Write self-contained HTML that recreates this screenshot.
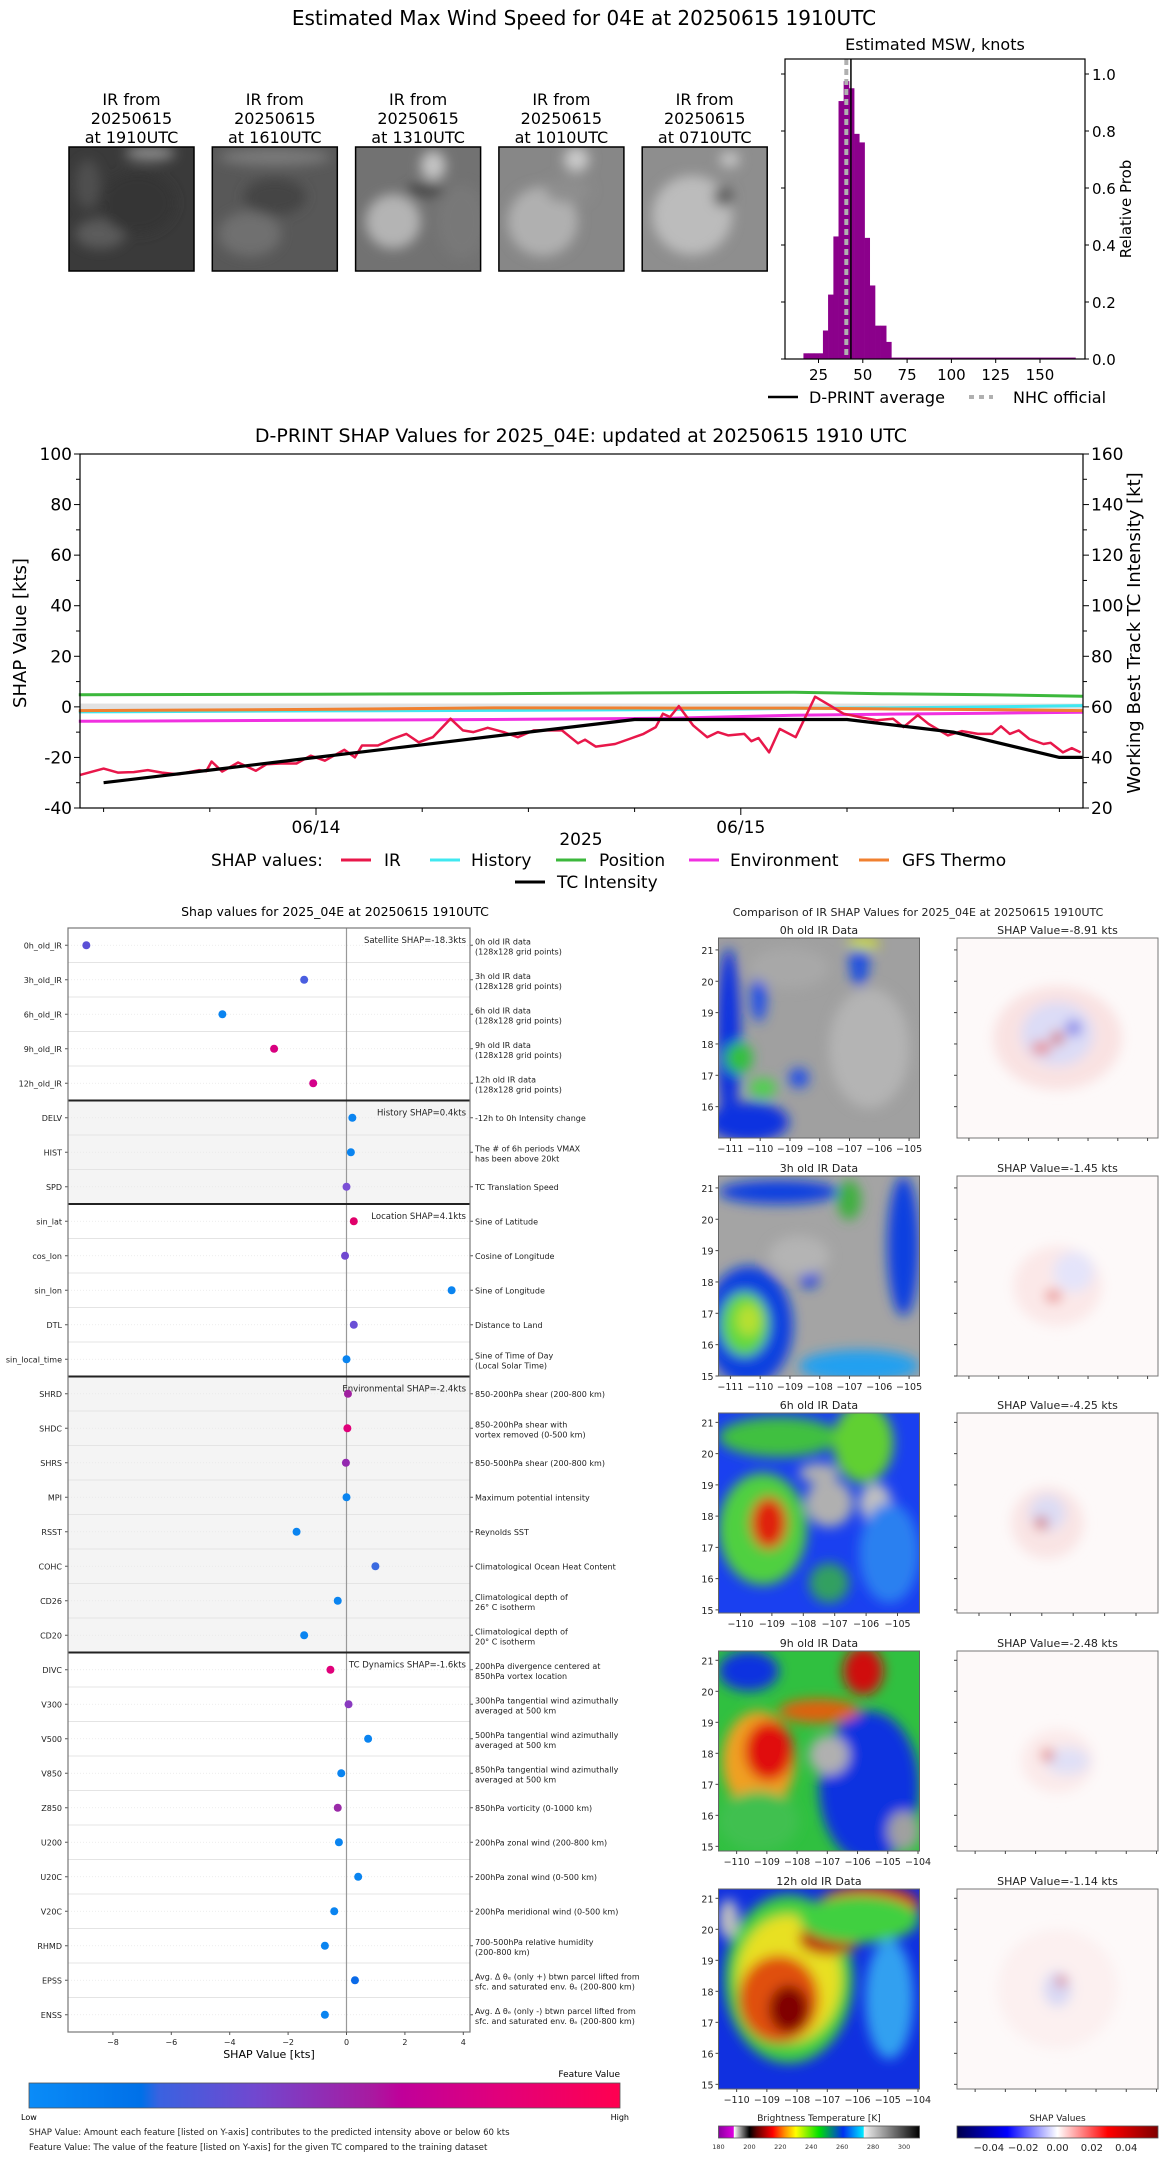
<!DOCTYPE html>
<html><head><meta charset="utf-8"><title>D-PRINT</title>
<style>
html,body{margin:0;padding:0;background:#fff;}
svg{display:block;font-family:"DejaVu Sans","Liberation Sans",sans-serif;}
</style></head>
<body>
<svg id="fig" xmlns="http://www.w3.org/2000/svg" width="1168" height="2158" viewBox="0 0 1168 2158">
<defs>
  <filter id="blur6" x="-50%" y="-50%" width="200%" height="200%"><feGaussianBlur stdDeviation="6"/></filter>
  <filter id="blur10" x="-50%" y="-50%" width="200%" height="200%"><feGaussianBlur stdDeviation="10"/></filter>
  <filter id="blur3" x="-50%" y="-50%" width="200%" height="200%"><feGaussianBlur stdDeviation="3"/></filter>
  <linearGradient id="featGrad" x1="0" x2="1" y1="0" y2="0">
    <stop offset="0" stop-color="#0a8cf8"/><stop offset="0.19" stop-color="#0070e8"/>
    <stop offset="0.22" stop-color="#3a62e0"/><stop offset="0.38" stop-color="#7048d0"/>
    <stop offset="0.58" stop-color="#a81aa0"/><stop offset="0.63" stop-color="#c0009a"/>
    <stop offset="0.8" stop-color="#e2007a"/><stop offset="1" stop-color="#ff0050"/>
  </linearGradient>
  <linearGradient id="btGrad" x1="0" x2="1" y1="0" y2="0">
    <stop offset="0" stop-color="#8a00a0"/><stop offset="0.075" stop-color="#e000e0"/>
    <stop offset="0.077" stop-color="#ffffff"/><stop offset="0.154" stop-color="#000000"/>
    <stop offset="0.19" stop-color="#600000"/><stop offset="0.27" stop-color="#ff0000"/>
    <stop offset="0.33" stop-color="#ff9000"/><stop offset="0.385" stop-color="#ffff00"/>
    <stop offset="0.5" stop-color="#00e000"/><stop offset="0.62" stop-color="#0030f0"/>
    <stop offset="0.72" stop-color="#00e8ff"/><stop offset="0.725" stop-color="#f0f0f0"/>
    <stop offset="1" stop-color="#000000"/>
  </linearGradient>
  <linearGradient id="shapGrad" x1="0" x2="1" y1="0" y2="0">
    <stop offset="0" stop-color="#00004c"/><stop offset="0.25" stop-color="#0000ff"/>
    <stop offset="0.5" stop-color="#ffffff"/><stop offset="0.75" stop-color="#ff0000"/>
    <stop offset="1" stop-color="#800000"/>
  </linearGradient>
  <clipPath id="clipThumb"><rect x="0" y="0" width="125" height="124"/></clipPath>
  <clipPath id="clipPanel"><rect x="0" y="0" width="201" height="200"/></clipPath>
</defs>

<text x="584" y="25" font-size="20" text-anchor="middle">Estimated Max Wind Speed for 04E at 20250615 1910UTC</text>
<g id="thumbs"></g>
<g id="hist"></g>
<g id="ts"></g>
<g id="dots"></g>
<g id="panels"></g>
</svg>

<script>
// ---------------- DATA ----------------
const histBinStarts = [16.5,19.45,22.4,25.35,27.5,30.4,33.4,36.3,39.2,42.2,45.1,48.0,51.0,53.9,56.9,59.8,63.2,66.1];
const histHeights   = [0.02,0.02,0.02,0.02,0.10,0.226,0.43,0.905,0.975,0.95,0.79,0.76,0.425,0.258,0.117,0.117,0.06,0.005];
const histTailEnd = 170;
const dprintAvg = 43.3;
const nhcOfficial = 40.7;
const histXTicks = [25,50,75,100,125,150];
const histYTicks = [0,0.2,0.4,0.6,0.8,1.0];

const irHours = [-13.35,-12.0,-11.2,-10.3,-9.5,-8.7,-7.8,-6.6,-6.2,-5.9,-5.3,-4.4,-3.4,-2.8,-2.0,-1.1,-0.3,0.5,1.6,2.2,2.6,3.5,4.3,5.1,5.8,6.6,7.6,8.3,8.9,9.7,10.6,11.4,12.3,13.1,13.9,14.8,15.2,15.8,16.9,17.7,18.5,19.2,19.6,20.0,20.5,21.3,22.1,22.7,23.3,24.2,24.6,25.0,25.6,26.2,27.1,28.2,29.0,29.8,30.7,31.7,32.6,33.2,34.0,34.6,35.7,36.5,37.4,38.2,38.7,39.2,39.7,40.3,41.1,41.5,42.2,42.7,43.2];
const irValues = [-27,-24.4,-26,-25.8,-25,-26,-26.7,-25,-25.4,-21.6,-25.6,-22,-25.3,-22.7,-22.4,-22.4,-19.3,-21.3,-17,-20,-15.3,-15.3,-12.7,-10.7,-14,-12,-4.7,-9.3,-10,-8.3,-10,-12,-9.3,-9.3,-9.3,-14.4,-13,-15.7,-14.7,-12.7,-10.7,-8,-2.7,-4,0.3,-7.3,-12,-10,-11.3,-10.7,-13.6,-12.3,-18,-8.7,-12,4,0.7,-2.7,-4,-5.3,-4.7,-8,-3.3,-6.7,-11.3,-9.6,-10.7,-10.7,-7.7,-10.7,-9.3,-12.7,-14.7,-14.2,-18,-16.3,-18];
const histSeriesHours = [-13.4,0,10,20,27,32,38,43.3];
const historyValues  = [-2,-1.6,-1.4,-1.1,-0.6,-0.4,0,0.5];
const positionValues = [4.8,5.0,5.2,5.6,5.8,5.2,4.8,4.2];
const environValues  = [-5.7,-5.3,-5.0,-4.5,-3.3,-2.9,-2.5,-2.1];
const gfsValues      = [-1.5,-1.0,-0.4,-0.5,-0.5,-0.8,-1.1,-1.5];
const tcHours  = [-12,-6,0,6,12,18,24,30,36,42,43.3];
const tcValues = [30,35,40,45,50,55,55,55,50,40,40];
const tsLeftTicks = [-40,-20,0,20,40,60,80,100];
const tsRightTicks = [20,40,60,80,100,120,140,160];
const tsDateTicks = [0,24];
const tsDateLabels = ["06/14","06/15"];
const tsMinorHours = [-12,-6,6,12,18,30,36,42];

const features = ["0h_old_IR","3h_old_IR","6h_old_IR","9h_old_IR","12h_old_IR","DELV","HIST","SPD","sin_lat","cos_lon","sin_lon","DTL","sin_local_time","SHRD","SHDC","SHRS","MPI","RSST","COHC","CD26","CD20","DIVC","V300","V500","V850","Z850","U200","U20C","V20C","RHMD","EPSS","ENSS"];
const shapValues = [-8.91,-1.45,-4.25,-2.48,-1.14,0.2,0.15,0.0,0.25,-0.05,3.6,0.25,0.0,0.05,0.03,-0.02,0.0,-1.71,0.99,-0.3,-1.45,-0.55,0.07,0.74,-0.18,-0.3,-0.26,0.4,-0.42,-0.74,0.29,-0.74];
const dotColors = ["#5b50d6","#4a5ee0","#0a84f0","#d8007f","#d4008a","#0a84f0","#0a84f0","#7b4fd6","#e0006a","#7048d0","#0a84f0","#6a4fd6","#0a84f0","#a020a0","#e0007a","#9428b0","#0a84f0","#0a84f0","#3a6ae0","#0a84f0","#0a84f0","#e0007a","#8a3ac0","#0a84f0","#0a84f0","#9a2aa8","#0a84f0","#0a84f0","#0a84f0","#0a84f0","#0a6ae8","#0a84f0"];
const descriptions = ["0h old IR data|(128x128 grid points)","3h old IR data|(128x128 grid points)","6h old IR data|(128x128 grid points)","9h old IR data|(128x128 grid points)","12h old IR data|(128x128 grid points)","-12h to 0h Intensity change","The # of 6h periods VMAX|has been above 20kt","TC Translation Speed","Sine of Latitude","Cosine of Longitude","Sine of Longitude","Distance to Land","Sine of Time of Day|(Local Solar Time)","850-200hPa shear (200-800 km)","850-200hPa shear with|vortex removed (0-500 km)","850-500hPa shear (200-800 km)","Maximum potential intensity","Reynolds SST","Climatological Ocean Heat Content","Climatological depth of|26° C isotherm","Climatological depth of|20° C isotherm","200hPa divergence centered at|850hPa vortex location","300hPa tangential wind azimuthally|averaged at 500 km","500hPa tangential wind azimuthally|averaged at 500 km","850hPa tangential wind azimuthally|averaged at 500 km","850hPa vorticity (0-1000 km)","200hPa zonal wind (200-800 km)","200hPa zonal wind (0-500 km)","200hPa meridional wind (0-500 km)","700-500hPa relative humidity|(200-800 km)","Avg. Δ θₑ (only +) btwn parcel lifted from|sfc. and saturated env. θₑ (200-800 km)","Avg. Δ θₑ (only -) btwn parcel lifted from|sfc. and saturated env. θₑ (200-800 km)"];
const groupStarts = [0,5,8,13,21];
const groupLabels = ["Satellite SHAP=-18.3kts","History SHAP=0.4kts","Location SHAP=4.1kts","Environmental SHAP=-2.4kts","TC Dynamics SHAP=-1.6kts"];
const groupShaded = [false,true,false,true,false];
const dotXTicks = [-8,-6,-4,-2,0,2,4];

const panelTitles = ["0h old IR Data","3h old IR Data","6h old IR Data","9h old IR Data","12h old IR Data"];
const panelShap = ["-8.91","-1.45","-4.25","-2.48","-1.14"];
const panelLatTicks = [[16,17,18,19,20,21],[15,16,17,18,19,20,21],[15,16,17,18,19,20,21],[15,16,17,18,19,20,21],[15,16,17,18,19,20,21]];
const panelLonTicks = [[-111,-110,-109,-108,-107,-106,-105],[-111,-110,-109,-108,-107,-106,-105],[-110,-109,-108,-107,-106,-105],[-110,-109,-108,-107,-106,-105,-104],[-110,-109,-108,-107,-106,-105,-104]];
const panelLonRange = [[-111.4,-104.65],[-111.4,-104.65],[-110.7,-104.3],[-110.6,-103.95],[-110.6,-103.95]];
const panelLatRange = [[15.0,21.38],[15.0,21.38],[14.9,21.3],[14.85,21.3],[14.85,21.3]];
const btTicks = [180,200,220,240,260,280,300];
const shapCbTicks = [-0.04,-0.02,0.00,0.02,0.04];

// ---------------- HELPERS ----------------
const NS = "http://www.w3.org/2000/svg";
function mk(tag, attrs, parent){ const e=document.createElementNS(NS,tag); for(const k in attrs) e.setAttribute(k,attrs[k]); parent.appendChild(e); return e; }
function tx(x,y,s,size,anchor,parent,extra){ const e=mk("text",Object.assign({x:x,y:y,"font-size":size,"text-anchor":anchor||"start",fill:"#000"},extra||{}),parent); e.textContent=s; return e; }

// ---------------- THUMBNAILS ----------------
const thumbG = document.getElementById("thumbs");
const thumbLabels = ["1910UTC","1610UTC","1310UTC","1010UTC","0710UTC"];
const thumbBase = ["#3a3a3a","#585858","#727272","#878787","#8e8e8e"];
const thumbBlob = [
 [[0.25,0.7,0.2,0.12,"#5c5c5c"],[0.65,0.05,0.2,0.06,"#8a8a8a"],[0.55,0.45,0.3,0.25,"#343434"],[0.15,0.3,0.1,0.2,"#505050"]],
 [[0.3,0.7,0.25,0.18,"#707070"],[0.5,0.08,0.45,0.07,"#7a7a7a"],[0.5,0.4,0.25,0.15,"#454545"]],
 [[0.3,0.6,0.22,0.22,"#b4b4b4"],[0.62,0.15,0.1,0.12,"#c4c4c4"],[0.55,0.35,0.15,0.06,"#4c4c4c"],[0.85,0.6,0.2,0.3,"#787878"]],
 [[0.35,0.6,0.28,0.28,"#b0b0b0"],[0.62,0.1,0.1,0.1,"#cacaca"],[0.55,0.35,0.18,0.1,"#8e8e8e"]],
 [[0.4,0.55,0.32,0.32,"#bcbcbc"],[0.65,0.4,0.08,0.08,"#606060"],[0.7,0.1,0.08,0.06,"#c8c8c8"]]
];
for(let i=0;i<5;i++){
  const x0 = 69 + i*143.3, y0=147;
  const cx = x0+62.5;
  const l1 = tx(cx,105,"IR from",16,"middle",thumbG);
  
  
  const l2 = tx(cx,124,"20250615",16,"middle",thumbG);
  
  
  const l3 = tx(cx,143,"at "+thumbLabels[i],16,"middle",thumbG);
  
  
  const g = mk("g",{transform:`translate(${x0},${y0})`},thumbG);
  
  
  const inner = mk("g",{"clip-path":"url(#clipThumb)"},g);
  mk("rect",{x:0,y:0,width:125,height:124,fill:thumbBase[i]},inner);
  const bg = mk("g",{filter:"url(#blur6)"},inner);
  thumbBlob[i].forEach(b=>mk("ellipse",{cx:b[0]*125,cy:b[1]*124,rx:b[2]*125,ry:b[3]*124,fill:b[4]},bg));
  mk("rect",{x:0,y:0,width:125,height:124,fill:"none",stroke:"#000","stroke-width":1.5},g);
}

// ---------------- HISTOGRAM ----------------
(function(){
  const g = document.getElementById("hist");
  const L=785,R=1085,T=59,B=359;
  const xk = k => 774.2 + k*1.772;
  const yp = p => B - p*285;
  const t = tx((L+R)/2,50,"Estimated MSW, knots",16,"middle",g);
  
  
  histBinStarts.forEach((s,i)=>{
    const w = (i===histBinStarts.length-1) ? (histTailEnd - s) : (histBinStarts[i+1]-s);
    const r = mk("rect",{x:xk(s),y:yp(histHeights[i]),width:xk(s+w)-xk(s)+0.3,height:B-yp(histHeights[i]),fill:"#8b008b"},g);
    
    
  });
  const nhc = mk("line",{x1:xk(nhcOfficial),x2:xk(nhcOfficial),y1:T,y2:B,stroke:"#b0b0b0","stroke-width":4,"stroke-dasharray":"6,4"},g);
  
  
  const dp = mk("line",{x1:xk(dprintAvg),x2:xk(dprintAvg),y1:T,y2:B,stroke:"#000","stroke-width":1.5},g);
  
  
  const fr = mk("rect",{x:L,y:T,width:R-L,height:B-T,fill:"none",stroke:"#000","stroke-width":1.2},g);
  
  
  histXTicks.forEach(k=>{
    mk("line",{x1:xk(k),x2:xk(k),y1:B,y2:B+4,stroke:"#000"},g);
    const l = tx(xk(k),B+21,String(k),15,"middle",g);
    
    
  });
  histYTicks.forEach(p=>{
    mk("line",{x1:R,x2:R+4,y1:yp(p),y2:yp(p),stroke:"#000"},g);
    mk("line",{x1:L,x2:L-4,y1:yp(p),y2:yp(p),stroke:"#000"},g);
    const l = tx(R+7,yp(p)+6,p.toFixed(1),15,"start",g);
    
    
  });
  const yl = tx(1131,209,"Relative Prob",15,"middle",g,{transform:"rotate(-90 1131 209)"});
  
  
  const l1 = mk("line",{x1:768,x2:798,y1:397,y2:397,stroke:"#000","stroke-width":2.5},g);
  
  
  const t1 = tx(809,403,"D-PRINT average",16,"start",g);
  
  
  const l2 = mk("line",{x1:969,x2:993,y1:397,y2:397,stroke:"#b0b0b0","stroke-width":4,"stroke-dasharray":"5,5"},g);
  
  
  const t2 = tx(1013,403,"NHC official",16,"start",g);
  
  
})();

// ---------------- TIME SERIES ----------------
(function(){
  const g = document.getElementById("ts");
  const L=80,R=1083,T=454,B=808;
  const xh = h => 316 + h*17.7;
  const yl = v => T + (100-v)*(B-T)/140;
  const yr = v => T + (160-v)*(B-T)/140;
  const t = tx(581,442,"D-PRINT SHAP Values for 2025_04E: updated at 20250615 1910 UTC",19,"middle",g);
  
  
  const band = mk("rect",{x:L,y:yl(1.3),width:R-L,height:yl(-1.3)-yl(1.3),fill:"#e2e2e2"},g);
  
  
  function poly(hs,vs,scale,color,w,name){
    const p = hs.map((h,i)=>xh(h).toFixed(1)+","+scale(vs[i]).toFixed(1)).join(" ");
    const e = mk("polyline",{points:p,fill:"none",stroke:color,"stroke-width":w,"stroke-linejoin":"round"},g);
    
    
  }
  poly(histSeriesHours,positionValues,yl,"#3cb83c",3,"position-line");
  poly(histSeriesHours,historyValues,yl,"#40e8f0",3,"history-line");
  poly(histSeriesHours,environValues,yl,"#f030e0",3,"environment-line");
  poly(histSeriesHours,gfsValues,yl,"#f08030",3,"gfs-thermo-line");
  poly(irHours,irValues,yl,"#e8174a",2.5,"ir-line");
  poly(tcHours,tcValues,yr,"#000",3.2,"tc-intensity-line");
  const fr = mk("rect",{x:L,y:T,width:R-L,height:B-T,fill:"none",stroke:"#000","stroke-width":1.2},g);
  
  
  for(let v=-40; v<=100; v+=10){ mk("line",{x1:L,x2:L-(v%20===0?6:4),y1:yl(v),y2:yl(v),stroke:"#000"},g); }
  for(let v=20; v<=160; v+=10){ mk("line",{x1:R,x2:R+(v%20===0?6:4),y1:yr(v),y2:yr(v),stroke:"#000"},g); }
  tsLeftTicks.forEach(v=>{
    const l = tx(L-8,yl(v)+6,String(v),17,"end",g);
    
    
  });
  tsRightTicks.forEach(v=>{
    const l = tx(R+8,yr(v)+6,String(v),17,"start",g);
    
    
  });
  tsDateTicks.forEach((h,i)=>{
    mk("line",{x1:xh(h),x2:xh(h),y1:B,y2:B+7,stroke:"#000"},g);
    const l = tx(xh(h),B+25,tsDateLabels[i],17,"middle",g);
    
    
  });
  tsMinorHours.forEach(h=>mk("line",{x1:xh(h),x2:xh(h),y1:B,y2:B+4,stroke:"#000"},g));
  const xl = tx(581,845,"2025",17,"middle",g);
  
  
  const ylt = tx(26,633,"SHAP Value [kts]",18,"middle",g,{transform:"rotate(-90 26 633)"});
  
  
  const yrt = tx(1140,633,"Working Best Track TC Intensity [kt]",18,"middle",g,{transform:"rotate(-90 1140 633)"});
  
  
  const lt = tx(211,866,"SHAP values:",17,"start",g);
  
  
  const legNames = ["IR","History","Position","Environment","GFS Thermo","TC Intensity"];
  const legColors = ["#e8174a","#40e8f0","#3cb83c","#f030e0","#f08030","#000"];
  const legLineX = [341,430,556,689,859,515];
  const legTextX = [384,471,599,730,902,557];
  const legY = [860,860,860,860,860,882];
  legNames.forEach((n,i)=>{
    const s = mk("line",{x1:legLineX[i],x2:legLineX[i]+30,y1:legY[i],y2:legY[i],stroke:legColors[i],"stroke-width":3},g);
    
    
    const l = tx(legTextX[i],legY[i]+6,n,17,"start",g);
    
    
  });
})();

// ---------------- DOT PLOT ----------------
(function(){
  const g = document.getElementById("dots");
  const L=68,R=470,T=928,rowH=34.5;
  const B = T + features.length*rowH;
  const xs = v => 346.5 + v*29.2;
  const yc = i => T + rowH*(i+0.5);
  const t = tx(335,916,"Shap values for 2025_04E at 20250615 1910UTC",12.5,"middle",g);
  
  
  groupStarts.forEach((s,gi)=>{
    const e = gi<groupStarts.length-1 ? groupStarts[gi+1] : features.length;
    if(groupShaded[gi]){
      const r = mk("rect",{x:L,y:T+s*rowH,width:R-L,height:(e-s)*rowH,fill:"#f4f4f4"},g);
      
      
    }
  });
  features.forEach((f,i)=>{
    mk("line",{x1:L,x2:R,y1:T+rowH*(i+1),y2:T+rowH*(i+1),stroke:"#e4e4e4","stroke-width":1},g);
    mk("line",{x1:L,x2:R,y1:yc(i),y2:yc(i),stroke:"#e8e8e8","stroke-width":0.8,"stroke-dasharray":"1,2"},g);
  });
  const zl = mk("line",{x1:xs(0),x2:xs(0),y1:T,y2:B,stroke:"#999","stroke-width":1.2},g);
  
  
  groupStarts.forEach((s,gi)=>{
    if(s>0){
      const sep = mk("line",{x1:L,x2:R,y1:T+s*rowH,y2:T+s*rowH,stroke:"#222","stroke-width":2},g);
      
      
    }
    const a = tx(R-4,T+s*rowH+15,groupLabels[gi],8.5,"end",g,{fill:"#222"});
    
    
  });
  features.forEach((f,i)=>{
    mk("line",{x1:L,x2:L-3,y1:yc(i),y2:yc(i),stroke:"#555"},g);
    mk("line",{x1:R,x2:R+3,y1:yc(i),y2:yc(i),stroke:"#555"},g);
    const l = tx(L-6,yc(i)+3,f,8,"end",g,{fill:"#222"});
    
    
    const lines = descriptions[i].split("|");
    const d = mk("text",{x:R+5,y:yc(i)+(lines.length>1?-1:3),"font-size":8,fill:"#222"},g);
    
    
    lines.forEach((ln,k)=>{ const ts=mk("tspan",{x:R+5,dy:k===0?0:10},d); ts.textContent=ln; });
    const c = mk("circle",{cx:xs(shapValues[i]),cy:yc(i),r:4,fill:dotColors[i]},g);
    
    
  });
  const fr = mk("rect",{x:L,y:T,width:R-L,height:B-T,fill:"none",stroke:"#777","stroke-width":1.2},g);
  
  
  dotXTicks.forEach(v=>{
    mk("line",{x1:xs(v),x2:xs(v),y1:B,y2:B+3,stroke:"#555"},g);
    const l = tx(xs(v),B+13,(v<0?"\u2212":"")+Math.abs(v),8,"middle",g,{fill:"#222"});
    
    
  });
  const xl = tx(269,2058,"SHAP Value [kts]",11,"middle",g);
  
  
  const cb = mk("rect",{x:29,y:2083,width:591,height:25,fill:"url(#featGrad)",stroke:"#555","stroke-width":0.8},g);
  
  
  const fv = tx(620,2077,"Feature Value",9,"end",g);
  
  
  const lo = tx(21,2120,"Low",8,"start",g);
  
  
  const hi = tx(629,2120,"High",8,"end",g);
  
  
  const f1 = tx(29,2135,"SHAP Value: Amount each feature [listed on Y-axis] contributes to the predicted intensity above or below 60 kts",8.6,"start",g,{fill:"#222"});
  
  
  const f2 = tx(29,2150,"Feature Value: The value of the feature [listed on Y-axis] for the given TC compared to the training dataset",8.6,"start",g,{fill:"#222"});
  
  
})();

// ---------------- IR / SHAP PANELS ----------------
const irBlobs = [
 ["#a0a0a0",[[0.05,0.5,0.06,0.45,"#1030e0"],[0.15,0.92,0.2,0.1,"#1030e0"],[0.1,0.6,0.07,0.08,"#30c040"],[0.22,0.75,0.07,0.05,"#50d050"],[0.7,0.12,0.05,0.12,"#1a50e0"],[0.72,0.03,0.08,0.03,"#d0e020"],[0.2,0.3,0.04,0.12,"#2050e8"],[0.4,0.7,0.05,0.05,"#2050e8"],[0.75,0.55,0.2,0.3,"#b4b4b4"],[0.35,0.15,0.2,0.1,"#a8a8a8"]]],
 ["#a4a4a4",[[0.15,0.75,0.22,0.3,"#1040e0"],[0.13,0.74,0.12,0.16,"#60d840"],[0.15,0.72,0.06,0.08,"#b8e030"],[0.3,0.08,0.3,0.06,"#1040e0"],[0.65,0.12,0.06,0.1,"#40b040"],[0.92,0.35,0.08,0.35,"#1040e0"],[0.7,0.95,0.3,0.08,"#20a0f0"],[0.45,0.5,0.05,0.06,"#1040e0"],[0.4,0.4,0.15,0.1,"#b4b4b4"]]],
 ["#1a40f0",[[0.22,0.58,0.22,0.28,"#50d040"],[0.25,0.55,0.09,0.13,"#e02010"],[0.3,0.12,0.3,0.1,"#40c040"],[0.72,0.15,0.1,0.15,"#e03010"],[0.72,0.15,0.15,0.2,"#60d030"],[0.55,0.45,0.12,0.12,"#b0b0b0"],[0.78,0.45,0.08,0.1,"#c0c0c0"],[0.5,0.3,0.1,0.05,"#b0b0b0"],[0.85,0.7,0.15,0.25,"#2a80f0"],[0.55,0.85,0.1,0.1,"#30a060"]]],
 ["#30c040",[[0.75,0.68,0.25,0.38,"#1030e0"],[0.2,0.55,0.18,0.25,"#f0a020"],[0.25,0.5,0.12,0.15,"#e01010"],[0.72,0.1,0.1,0.12,"#d01010"],[0.5,0.3,0.2,0.06,"#e06010"],[0.55,0.52,0.1,0.1,"#b0b0b0"],[0.15,0.1,0.15,0.1,"#1030e0"],[0.92,0.9,0.08,0.1,"#a0a0a0"],[0.2,0.85,0.2,0.15,"#40c050"]]],
 ["#1030e0",[[0.35,0.45,0.32,0.42,"#40d040"],[0.35,0.45,0.26,0.32,"#e8e020"],[0.3,0.55,0.2,0.22,"#e05010"],[0.35,0.6,0.1,0.12,"#800000"],[0.55,0.25,0.15,0.08,"#c02010"],[0.75,0.08,0.25,0.1,"#e02010"],[0.7,0.15,0.3,0.12,"#40d040"],[0.85,0.55,0.12,0.3,"#30a0f0"],[0.05,0.15,0.05,0.1,"#c0c0c0"]]]
];
const shapBlobs = [
 [[0.5,0.5,0.32,0.26,"#f9e2e2"],[0.5,0.48,0.18,0.16,"#dcdcf6"],[0.42,0.55,0.05,0.03,"#e88080"],[0.58,0.45,0.04,0.04,"#8080e8"],[0.5,0.5,0.03,0.03,"#d04040"]],
 [[0.5,0.55,0.22,0.2,"#fbe8e8"],[0.58,0.48,0.1,0.1,"#e4e4fa"],[0.48,0.6,0.04,0.03,"#e88888"]],
 [[0.45,0.55,0.18,0.18,"#f9e4e4"],[0.45,0.5,0.09,0.09,"#dcdcf4"],[0.42,0.55,0.03,0.03,"#d05050"]],
 [[0.5,0.55,0.18,0.16,"#fbeaea"],[0.55,0.55,0.11,0.07,"#e0e0f6"],[0.45,0.52,0.03,0.03,"#e07070"]],
 [[0.5,0.5,0.3,0.3,"#fcf0f0"],[0.5,0.5,0.07,0.09,"#d8d8f4"],[0.52,0.46,0.025,0.025,"#e06060"]]
];
(function(){
  const g = document.getElementById("panels");
  const t = tx(918,916,"Comparison of IR SHAP Values for 2025_04E at 20250615 1910UTC",11,"middle",g,{fill:"#222"});
  
  
  const tops = [938,1176,1413,1651,1889];
  const IRX=718.5, SX=957, W=201, H=200;
  for(let r=0;r<5;r++){
    const y0 = tops[r];
    const st = tx(IRX+W/2,y0-4,panelTitles[r],11,"middle",g,{fill:"#222"});
    
    
    const s2 = tx(SX+W/2,y0-4,"SHAP Value="+panelShap[r]+" kts",11,"middle",g,{fill:"#222"});
    
    
    const pg = mk("g",{transform:`translate(${IRX},${y0})`},g);
    
    
    const inner = mk("g",{"clip-path":"url(#clipPanel)"},pg);
    mk("rect",{x:0,y:0,width:W,height:H,fill:irBlobs[r][0]},inner);
    const bg = mk("g",{filter:"url(#blur6)"},inner);
    irBlobs[r][1].forEach(b=>mk("ellipse",{cx:b[0]*W,cy:b[1]*H,rx:b[2]*W,ry:b[3]*H,fill:b[4]},bg));
    mk("rect",{x:0,y:0,width:W,height:H,fill:"none",stroke:"#666","stroke-width":1},pg);
    const sg = mk("g",{transform:`translate(${SX},${y0})`},g);
    
    
    const sin = mk("g",{"clip-path":"url(#clipPanel)"},sg);
    mk("rect",{x:0,y:0,width:W,height:H,fill:"#fdf9f9"},sin);
    const sb = mk("g",{filter:"url(#blur6)"},sin);
    shapBlobs[r].forEach(b=>mk("ellipse",{cx:b[0]*W,cy:b[1]*H,rx:b[2]*W,ry:b[3]*H,fill:b[4]},sb));
    mk("rect",{x:0,y:0,width:W,height:H,fill:"none",stroke:"#777","stroke-width":1},sg);
    const lat = panelLatRange[r], lon = panelLonRange[r];
    const yLat = v => y0 + H - (v-lat[0])/(lat[1]-lat[0])*H;
    const xLon = v => IRX + (v-lon[0])/(lon[1]-lon[0])*W;
    panelLatTicks[r].forEach(v=>{
      mk("line",{x1:IRX,x2:IRX-3,y1:yLat(v),y2:yLat(v),stroke:"#444"},g);
      mk("line",{x1:SX,x2:SX-3,y1:yLat(v),y2:yLat(v),stroke:"#444"},g);
      const l = tx(IRX-5,yLat(v)+4,String(v),9.5,"end",g,{fill:"#222"});
      
      
    });
    panelLonTicks[r].forEach(v=>{
      mk("line",{x1:xLon(v),x2:xLon(v),y1:y0+H,y2:y0+H+3,stroke:"#444"},g);
      mk("line",{x1:xLon(v)-IRX+SX,x2:xLon(v)-IRX+SX,y1:y0+H,y2:y0+H+3,stroke:"#444"},g);
      const l = tx(xLon(v),y0+H+14,"\u2212"+Math.abs(v),9.5,"middle",g,{fill:"#222"});
      
      
    });
  }
  const bt = mk("rect",{x:IRX,y:2126,width:W,height:12,fill:"url(#btGrad)",stroke:"#555","stroke-width":0.8},g);
  
  
  const btt = tx(IRX+W/2,2121,"Brightness Temperature [K]",9,"middle",g,{fill:"#222"});
  
  
  btTicks.forEach(v=>{
    const x = IRX + (v-180)/130*W;
    const l = tx(x,2149,String(v),6.5,"middle",g,{fill:"#333"});
    
    
  });
  const sc = mk("rect",{x:SX,y:2126,width:W,height:12,fill:"url(#shapGrad)",stroke:"#555","stroke-width":0.8},g);
  
  
  const sct = tx(SX+W/2,2121,"SHAP Values",9,"middle",g,{fill:"#222"});
  
  
  shapCbTicks.forEach(v=>{
    const x = SX + (v+0.0585)/0.117*W;
    const l = tx(x,2151,(v<0?"\u2212":"")+Math.abs(v).toFixed(2),10,"middle",g,{fill:"#222"});
    
    
  });
})();
</script>
</body></html>
